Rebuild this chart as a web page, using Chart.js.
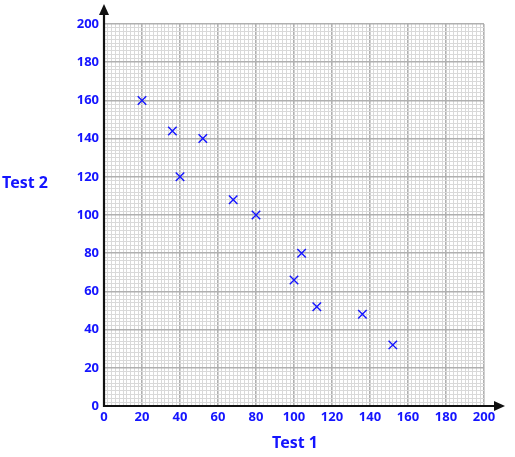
<!DOCTYPE html>
<html>
<head>
<meta charset="utf-8">
<script src="https://cdn.jsdelivr.net/npm/chart.js@4"></script>
<style>
  html, body { margin: 0; padding: 0; background: #fff; }
  #wrap { width: 515px; height: 457px; }
</style>
</head>
<body>
<div id="wrap"><canvas id="chart" width="515" height="457"></canvas></div>
<script>
// data
const test1 = [20, 36, 40, 52, 68, 80, 104, 100, 112, 136, 152];
const test2 = [160, 144, 120, 140, 108, 100, 80, 66, 52, 48, 32];
const tickLabels = ['0', '20', '40', '60', '80', '100', '120', '140', '160', '180', '200'];
const axisMax = 200;
const minorStep = 2;
const majorStep = 20;

const blue = '#1414ff';
const font = '"Comic Sans MS", "Noto Sans", sans-serif';

const points = test1.map((x, i) => ({ x: x, y: test2[i] }));

function buildTicks(scale) {
  const t = [];
  for (let v = 0; v <= axisMax; v += minorStep) t.push({ value: v });
  scale.ticks = t;
}

function labelFor(v) {
  if (v % majorStep !== 0) return '';
  return tickLabels[v / majorStep];
}

const gridStyle = {
  color: ctx => (ctx.tick && ctx.tick.value % majorStep === 0) ? '#b0b0b0' : '#d9d9d9',
  lineWidth: ctx => (ctx.tick && ctx.tick.value % majorStep === 0) ? 1.6 : 1,
  drawTicks: false
};

// axis lines with arrows plus the two axis titles
const axesPlugin = {
  id: 'axes',
  afterDatasetsDraw(chart) {
    const c = chart.ctx;
    const x0 = chart.scales.x.getPixelForValue(0);
    const y0 = chart.scales.y.getPixelForValue(0);
    const top = chart.chartArea.top;
    const right = chart.chartArea.right;
    c.save();
    c.strokeStyle = '#111';
    c.fillStyle = '#111';
    c.lineWidth = 2.2;
    c.beginPath();
    c.moveTo(x0, y0 + 1);
    c.lineTo(x0, top - 12);
    c.moveTo(x0 - 1, y0);
    c.lineTo(right + 12, y0);
    c.stroke();
    // arrow heads
    c.beginPath();
    c.moveTo(x0, top - 20);
    c.lineTo(x0 - 5, top - 9);
    c.lineTo(x0 + 5, top - 9);
    c.closePath();
    c.fill();
    c.beginPath();
    c.moveTo(right + 21, y0);
    c.lineTo(right + 10, y0 - 5);
    c.lineTo(right + 10, y0 + 5);
    c.closePath();
    c.fill();

    c.fillStyle = blue;
    c.font = 'bold 16px ' + font;
    c.textAlign = 'center';
    c.textBaseline = 'middle';
    c.fillText('Test 1', (x0 + right) / 2 + 1, 443);
    c.fillText('Test 2', 25, chart.scales.y.getPixelForValue(120) + 7);
    c.restore();
  }
};

new Chart(document.getElementById('chart'), {
  type: 'scatter',
  data: {
    datasets: [{
      label: 'Test',
      data: points,
      pointStyle: 'crossRot',
      radius: 6,
      hoverRadius: 6,
      borderColor: blue,
      backgroundColor: blue,
      borderWidth: 1.4
    }]
  },
  options: {
    responsive: false,
    animation: false,
    layout: { padding: { left: 0, top: 24, right: 31, bottom: 0 } },
    plugins: {
      legend: { display: false },
      tooltip: { enabled: false }
    },
    scales: {
      x: {
        type: 'linear',
        min: 0,
        max: axisMax,
        afterBuildTicks: buildTicks,
        afterFit: s => { s.height = 51; },
        border: { display: false },
        grid: gridStyle,
        ticks: {
          autoSkip: false,
          maxRotation: 0,
          padding: 3,
          color: blue,
          font: { family: font, size: 13, weight: 'bold' },
          callback: v => labelFor(v)
        }
      },
      y: {
        type: 'linear',
        min: 0,
        max: axisMax,
        afterBuildTicks: buildTicks,
        afterFit: s => { s.width = 104; },
        border: { display: false },
        grid: gridStyle,
        ticks: {
          autoSkip: false,
          padding: 5,
          color: blue,
          font: { family: font, size: 13, weight: 'bold' },
          callback: v => labelFor(v)
        }
      }
    }
  },
  plugins: [axesPlugin]
});
</script>
</body>
</html>
